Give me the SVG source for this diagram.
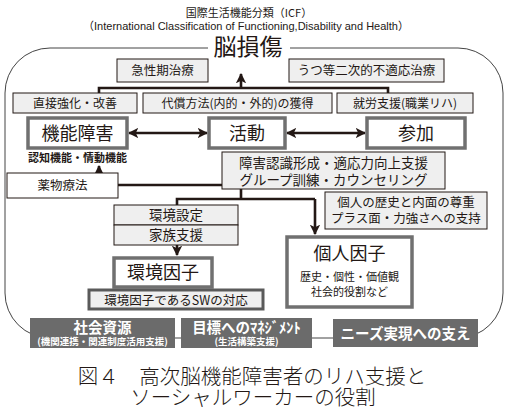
<svg xmlns="http://www.w3.org/2000/svg" width="509" height="410" viewBox="0 0 509 410">
<style>
text{font-family:"Noto Sans CJK JP","Noto Sans",sans-serif;fill:#231815;text-anchor:middle}
.lt{fill:#efefef;stroke:#231815;stroke-width:1}
.wh{fill:#fff;stroke:#231815;stroke-width:1}
.gb{fill:#fff;stroke:#707070;stroke-width:3.5}
.dk{fill:#6b6b6b;stroke:none}
.wt{fill:#fff;font-weight:bold}
.ln{fill:none;stroke:#231815;stroke-width:2.6}
.t12{font-size:12.5px}
.t18{font-size:18px}
</style>
<defs>
<marker id="ah" viewBox="0 0 10 10" refX="9" refY="5" markerWidth="4" markerHeight="4" orient="auto-start-reverse" markerUnits="strokeWidth">
<path d="M0,0 L10,5 L0,10 L2.5,5 z" fill="#231815"/>
</marker>
</defs>
<rect width="509" height="410" fill="#fff"/>
<text x="249" y="17" style="font-size:11px">国際生活機能分類（ICF）</text>
<text x="246" y="30" style="font-size:11px;font-family:'Liberation Sans','Noto Sans CJK JP',sans-serif">（International Classification of Functioning,Disability and Health）</text>
<g id="frame">
<path d="M208,48 L50,48 A45,45 0 0 0 5,93 L5,293 A45,45 0 0 0 50,338 L458,338 A45,45 0 0 0 503,293 L503,93 A45,45 0 0 0 458,48 L290,48" fill="none" stroke="#444" stroke-width="1"/>
<text x="248" y="55" style="font-size:23px">脳損傷</text>
</g>
<g id="connectors">
<path class="ln" d="M99,94 L99,88 L388,88 L388,94"/>
<path class="ln" d="M241,88 L241,74" marker-end="url(#ah)"/>
<path class="ln" d="M129,133 L207,133" marker-start="url(#ah)" marker-end="url(#ah)"/>
<path class="ln" d="M287,133 L365,133" marker-start="url(#ah)" marker-end="url(#ah)"/>
<path class="ln" d="M118,185 L222,185"/>
<path class="ln" d="M99,173 L99,166" marker-end="url(#ah)"/>
<path class="ln" d="M241,189 L241,199 M177,205 L177,199 L315,199"/>
<path class="ln" d="M315,199 L315,234" marker-end="url(#ah)"/>
<path class="ln" d="M177,245 L177,255" marker-end="url(#ah)"/>
</g>
<g id="acute"><rect class="lt" x="117" y="59" width="91" height="23"/><text class="t12" x="162.5" y="75">急性期治療</text></g>
<g id="secondary"><rect class="lt" x="289" y="59" width="155" height="23"/><text class="t12" x="366.5" y="75">うつ等二次的不適応治療</text></g>
<g id="direct"><rect class="lt" x="13" y="93" width="124" height="20"/><text style="font-size:12px" x="75" y="107.5">直接強化・改善</text></g>
<g id="compensate"><rect class="lt" x="143" y="93" width="189" height="20"/><text style="font-size:12px" x="237.5" y="107.5">代償方法(内的・外的)の獲得</text></g>
<g id="work"><rect class="lt" x="337" y="93" width="136" height="20"/><text style="font-size:12px" x="405" y="107.5">就労支援(職業リハ)</text></g>
<g id="impairment"><rect class="gb" x="28" y="118" width="99" height="30"/><text class="t18" x="77.5" y="139.5">機能障害</text>
<text x="77.5" y="162" style="font-size:11px;font-weight:bold">認知機能・情動機能</text></g>
<g id="activity"><rect class="gb" x="209" y="118" width="76" height="30"/><text class="t18" x="247" y="139.5">活動</text></g>
<g id="participation"><rect class="gb" x="367" y="118" width="98" height="30"/><text class="t18" x="416" y="139.5">参加</text></g>
<g id="awareness"><rect class="lt" x="222" y="152" width="223" height="37"/><text style="font-size:13.5px" x="333.5" y="168">障害認識形成・適応力向上支援</text><text style="font-size:13.5px" x="333.5" y="185">グループ訓練・カウンセリング</text></g>
<g id="drug"><rect class="wh" x="7" y="173" width="111" height="25"/><text class="t12" x="62.5" y="189.5">薬物療法</text></g>
<g id="respect"><rect class="lt" x="325" y="192" width="162" height="37"/><text style="font-size:12.5px" x="406" y="207">個人の歴史と内面の尊重</text><text style="font-size:12.5px" x="406" y="223">プラス面・力強さへの支持</text></g>
<g id="envsetting"><rect class="lt" x="114" y="205" width="124" height="20"/><text style="font-size:13.5px" x="176" y="220">環境設定</text><rect class="lt" x="114" y="225" width="124" height="20"/><text style="font-size:13.5px" x="176" y="240">家族支援</text></g>
<g id="envfactor"><rect class="gb" x="114" y="258" width="98" height="29"/><text class="t18" x="163" y="279">環境因子</text></g>
<g id="swenv"><rect x="89" y="290" width="174" height="19" fill="#efefef" stroke="#5a5a5a" stroke-width="3"/><text style="font-size:12.5px" x="176" y="304.5">環境因子であるSWの対応</text></g>
<g id="personal"><rect class="gb" x="287" y="237" width="125" height="70"/><text class="t18" x="349.5" y="259.5">個人因子</text><text style="font-size:11px" x="349.5" y="281">歴史・個性・価値観</text><text style="font-size:11px" x="349.5" y="296">社会的役割など</text></g>
<g id="resource"><rect class="dk" x="30" y="318" width="145" height="30"/><text class="wt" style="font-size:14.5px" x="102.5" y="332.5">社会資源</text><text class="wt" style="font-size:9.5px" x="102.5" y="345">(機関連携・関連制度活用支援)</text></g>
<g id="management"><rect class="dk" x="181" y="318" width="131" height="30"/><text class="wt" style="font-size:14.5px" x="246.5" y="332.5">目標へのﾏﾈｼﾞﾒﾝﾄ</text><text class="wt" style="font-size:9.5px" x="246.5" y="345">(生活構築支援)</text></g>
<g id="needs"><rect class="dk" x="333" y="319" width="145" height="28"/><text class="wt" style="font-size:14.5px" x="405.5" y="338.5">ニーズ実現への支え</text></g>
<g id="caption">
<text x="252" y="384" style="font-size:20.5px;font-weight:300">図４　高次脳機能障害者のリハ支援と</text>
<text x="253" y="405" style="font-size:20.5px;font-weight:300">ソーシャルワーカーの役割</text>
</g>
</svg>
